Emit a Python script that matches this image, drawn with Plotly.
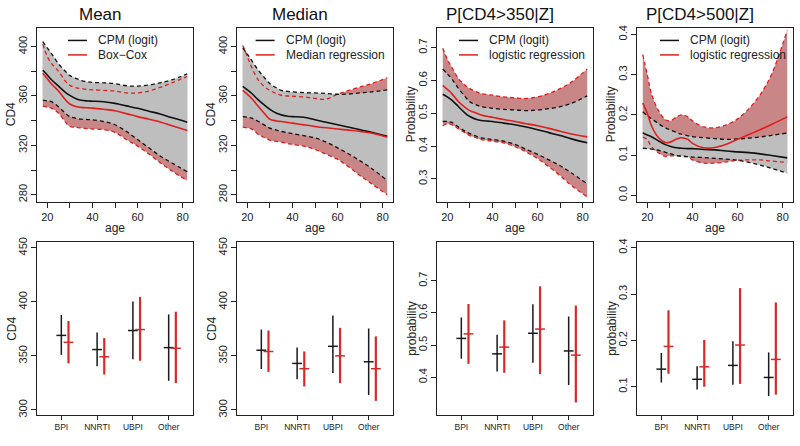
import numpy as np
import plotly.graph_objects as go

# ---------------- data: top row (smooth curves vs age) ----------------
age = [18, 20, 22, 25, 28, 30, 33, 35, 38, 40, 45, 50, 55, 60, 65, 70, 75, 82]

mean_cpm    = [381, 377, 373, 368, 363, 360.5, 357.5, 356.5, 356, 355.8, 355.3, 354, 352, 350, 347.7, 345.4, 342.5, 338.8]
mean_cpm_hi = [404, 399, 394, 386, 380, 376.6, 374, 372.6, 371.5, 371, 370.7, 370, 368.3, 368, 368.9, 370.7, 373, 377.9]
mean_cpm_lo = [356.6, 356, 355.3, 351.3, 346, 343.3, 341.8, 341.2, 340.9, 340.7, 339.3, 336.7, 331.3, 324.7, 318, 311.4, 306, 298.6]
mean_bc     = [378.4, 374, 369.5, 364, 357, 353.5, 351.3, 350.8, 350.4, 350.2, 349.2, 348, 345.7, 343.3, 341.2, 339, 336, 332]
mean_bc_hi  = [402, 392, 386, 380, 372, 368.6, 366.5, 366, 365.3, 365, 364.6, 364, 362.5, 362.5, 364, 367, 370.5, 375.8]
mean_bc_lo  = [351.8, 351, 350, 346, 339, 335.3, 334.5, 334, 333.5, 333.2, 332.7, 330.5, 324.7, 319.4, 313, 306, 299.5, 291.4]

med_cpm    = [367.8, 365, 362, 356.6, 352, 349.2, 346, 344.7, 343.6, 343.3, 342.8, 340.7, 338.7, 336.7, 334.7, 332.7, 330.5, 327.4]
med_cpm_hi = [399, 394, 388.6, 380.6, 374, 370, 366.5, 364.6, 363.7, 363.3, 362.7, 362.5, 362, 361.4, 361.6, 362.5, 363.3, 365]
med_cpm_lo = [343.3, 342.8, 342, 339.3, 336, 334, 332.3, 331.3, 330.2, 329.5, 327.9, 326, 322.6, 318, 313, 307.4, 301.5, 291.4]
med_mr     = [364.6, 361.5, 358, 351.3, 345, 341.2, 339.8, 339.3, 338.5, 338, 336.6, 335.3, 334.2, 333.2, 332.3, 331.3, 330, 326.6]
med_mr_hi  = [401, 392, 383, 372.6, 367, 364.6, 361.8, 360.6, 360, 359.8, 359.3, 358, 357.5, 361.5, 364.5, 367.3, 370, 374.7]
med_mr_lo  = [334.8, 334, 333.2, 328.7, 326, 324.2, 323.2, 322.6, 321.5, 320.7, 319.4, 316.7, 312.7, 308.7, 302.5, 295.4, 289, 280]

p350_cpm    = [0.558, 0.55, 0.54, 0.52, 0.50, 0.49, 0.481, 0.478, 0.476, 0.475, 0.47, 0.465, 0.458, 0.45, 0.441, 0.432, 0.422, 0.41]
p350_cpm_hi = [0.635, 0.62, 0.605, 0.575, 0.55, 0.535, 0.525, 0.52, 0.517, 0.515, 0.512, 0.51, 0.508, 0.51, 0.514, 0.52, 0.53, 0.553]
p350_cpm_lo = [0.475, 0.475, 0.472, 0.458, 0.445, 0.438, 0.43, 0.425, 0.422, 0.42, 0.415, 0.405, 0.39, 0.375, 0.358, 0.34, 0.318, 0.285]
p350_lr     = [0.585, 0.573, 0.56, 0.535, 0.517, 0.508, 0.5, 0.495, 0.49, 0.488, 0.481, 0.475, 0.468, 0.462, 0.454, 0.445, 0.437, 0.428]
p350_lr_hi  = [0.698, 0.665, 0.64, 0.605, 0.585, 0.575, 0.565, 0.56, 0.557, 0.555, 0.55, 0.547, 0.545, 0.55, 0.56, 0.575, 0.595, 0.635]
p350_lr_lo  = [0.462, 0.468, 0.465, 0.452, 0.44, 0.432, 0.425, 0.42, 0.417, 0.415, 0.41, 0.398, 0.382, 0.362, 0.337, 0.31, 0.28, 0.245]

p500_cpm    = [0.155, 0.15, 0.145, 0.135, 0.126, 0.122, 0.118, 0.117, 0.116, 0.116, 0.114, 0.113, 0.11, 0.108, 0.106, 0.103, 0.099, 0.093]
p500_cpm_hi = [0.208, 0.198, 0.19, 0.178, 0.168, 0.163, 0.156, 0.152, 0.148, 0.146, 0.143, 0.141, 0.139, 0.14, 0.142, 0.145, 0.149, 0.155]
p500_cpm_lo = [0.117, 0.116, 0.115, 0.112, 0.107, 0.104, 0.099, 0.097, 0.096, 0.095, 0.094, 0.092, 0.09, 0.087, 0.082, 0.075, 0.067, 0.055]
p500_lr     = [0.229, 0.204, 0.171, 0.143, 0.131, 0.132, 0.14, 0.143, 0.139, 0.129, 0.118, 0.119, 0.127, 0.139, 0.151, 0.163, 0.176, 0.195]
p500_lr_hi  = [0.35, 0.3, 0.25, 0.21, 0.188, 0.185, 0.195, 0.2, 0.195, 0.185, 0.17, 0.168, 0.175, 0.19, 0.215, 0.25, 0.3, 0.41]
p500_lr_lo  = [0.145, 0.138, 0.12, 0.105, 0.097, 0.098, 0.098, 0.099, 0.095, 0.088, 0.08, 0.08, 0.083, 0.087, 0.088, 0.088, 0.085, 0.082]

# ---------------- data: bottom row (estimates by regimen) ----------------
cats = ["BPI", "NNRTI", "UBPI", "Other"]

bmean_cpm    = [369.0, 355.9, 373.5, 357.7]
bmean_cpm_lo = [351.0, 340.4, 347.0, 327.0]
bmean_cpm_hi = [387.8, 371.7, 400.3, 388.4]
bmean_alt    = [362.6, 349.2, 374.4, 357.1]
bmean_alt_lo = [343.1, 332.8, 345.5, 324.9]
bmean_alt_hi = [382.4, 366.5, 404.6, 390.9]

bmed_cpm    = [355.3, 343.1, 358.9, 344.6]
bmed_cpm_lo = [337.9, 328.5, 334.3, 313.9]
bmed_cpm_hi = [374.4, 357.7, 387.5, 375.4]
bmed_alt    = [354.1, 338.2, 350.1, 338.2]
bmed_alt_lo = [335.2, 321.8, 324.9, 308.4]
bmed_alt_hi = [373.5, 354.1, 376.0, 368.1]

b350_cpm    = [0.521, 0.473, 0.537, 0.482]
b350_cpm_lo = [0.458, 0.418, 0.445, 0.376]
b350_cpm_hi = [0.586, 0.532, 0.627, 0.589]
b350_alt    = [0.535, 0.494, 0.550, 0.469]
b350_alt_lo = [0.442, 0.414, 0.410, 0.322]
b350_alt_hi = [0.628, 0.577, 0.683, 0.623]

b500_cpm    = [0.138, 0.116, 0.146, 0.120]
b500_cpm_lo = [0.109, 0.094, 0.104, 0.080]
b500_cpm_hi = [0.173, 0.144, 0.198, 0.174]
b500_alt    = [0.187, 0.143, 0.190, 0.159]
b500_alt_lo = [0.128, 0.100, 0.106, 0.083]
b500_alt_hi = [0.265, 0.201, 0.313, 0.282]

titles = ["Mean", "Median", "P[CD4>350|Z]", "P[CD4>500|Z]"]
legend_alt = ["Box\u2212Cox", "Median regression", "logistic regression", "logistic regression"]
ylab_top = ["CD4", "CD4", "Probability", "Probability"]
ylab_bot = ["CD4", "CD4", "probability", "probability"]

# ---------------- styling ----------------
W, H = 800, 446
FONT = "Liberation Sans, Arial, Helvetica, sans-serif"
BLACK = "#111111"
RED = "#E01E1E"
RED_FILL = "rgb(201,134,134)"
GRAY_FILL = "rgb(190,190,190)"
FRAME = "#222222"

panel_left = [37, 237, 437, 637]
panel_w = 156
top_rows = (23, 200)
bot_rows = (241, 416.5)

def px_x(p):
    return p / W

def px_y(p):
    return 1 - p / H

fig = go.Figure()

top_sets = [
    (mean_cpm, mean_cpm_lo, mean_cpm_hi, mean_bc, mean_bc_lo, mean_bc_hi),
    (med_cpm, med_cpm_lo, med_cpm_hi, med_mr, med_mr_lo, med_mr_hi),
    (p350_cpm, p350_cpm_lo, p350_cpm_hi, p350_lr, p350_lr_lo, p350_lr_hi),
    (p500_cpm, p500_cpm_lo, p500_cpm_hi, p500_lr, p500_lr_lo, p500_lr_hi),
]
bot_sets = [
    (bmean_cpm, bmean_cpm_lo, bmean_cpm_hi, bmean_alt, bmean_alt_lo, bmean_alt_hi),
    (bmed_cpm, bmed_cpm_lo, bmed_cpm_hi, bmed_alt, bmed_alt_lo, bmed_alt_hi),
    (b350_cpm, b350_cpm_lo, b350_cpm_hi, b350_alt, b350_alt_lo, b350_alt_hi),
    (b500_cpm, b500_cpm_lo, b500_cpm_hi, b500_alt, b500_alt_lo, b500_alt_hi),
]

top_yranges = [[274.2, 415.4], [274.2, 415.4], [0.230, 0.761], [-0.0164, 0.417]]
top_ytick = [
    ([280, 300, 320, 340, 360, 380, 400], ["280", "", "320", "", "360", "", "400"]),
    ([280, 300, 320, 340, 360, 380, 400], ["280", "", "320", "", "360", "", "400"]),
    ([0.3, 0.4, 0.5, 0.6, 0.7], ["0.3", "0.4", "0.5", "0.6", "0.7"]),
    ([0.0, 0.1, 0.2, 0.3, 0.4], ["0.0", "0.1", "0.2", "0.3", "0.4"]),
]
bot_yranges = [[295.4, 455.2], [295.4, 455.2], [0.283, 0.82], [0.039, 0.412]]
bot_ytick = [
    ([300, 350, 400, 450], ["300", "350", "400", "450"]),
    ([300, 350, 400, 450], ["300", "350", "400", "450"]),
    ([0.4, 0.5, 0.6, 0.7], ["0.4", "0.5", "0.6", "0.7"]),
    ([0.1, 0.2, 0.3, 0.4], ["0.1", "0.2", "0.3", "0.4"]),
]

def ax_suffix(n):
    return "" if n == 1 else str(n)

common_axis = dict(
    showline=True, mirror=True, linecolor=FRAME, linewidth=1,
    ticks="outside", ticklen=5, tickwidth=1, tickcolor=FRAME,
    showgrid=False, zeroline=False,
    tickfont=dict(family=FONT, size=11, color="#222"),
)

layout_axes = {}
annotations = []
shapes = []

dash_pat = "4px,3px"

for i in range(4):
    n = i + 1
    xa, ya = "x" + ax_suffix(n), "y" + ax_suffix(n)
    cpm, cpm_lo, cpm_hi, alt, alt_lo, alt_hi = top_sets[i]
    # red band, then gray band on top
    for lo, hi, fc in [(alt_lo, alt_hi, RED_FILL), (cpm_lo, cpm_hi, GRAY_FILL)]:
        fig.add_trace(go.Scatter(x=age, y=lo, mode="lines", line=dict(width=0, shape="spline"),
                                 showlegend=False, hoverinfo="skip", xaxis=xa, yaxis=ya))
        fig.add_trace(go.Scatter(x=age, y=hi, mode="lines", line=dict(width=0, shape="spline"),
                                 fill="tonexty", fillcolor=fc,
                                 showlegend=False, hoverinfo="skip", xaxis=xa, yaxis=ya))
    for s, col in [(alt_hi, RED), (alt_lo, RED), (cpm_hi, BLACK), (cpm_lo, BLACK)]:
        fig.add_trace(go.Scatter(x=age, y=s, mode="lines",
                                 line=dict(color=col, width=1.3, dash=dash_pat, shape="spline"),
                                 showlegend=False, hoverinfo="skip", xaxis=xa, yaxis=ya))
    fig.add_trace(go.Scatter(x=age, y=cpm, mode="lines", name="CPM (logit)",
                             line=dict(color=BLACK, width=1.6, shape="spline"),
                             showlegend=False, xaxis=xa, yaxis=ya))
    fig.add_trace(go.Scatter(x=age, y=alt, mode="lines", name=legend_alt[i],
                             line=dict(color=RED, width=1.6, shape="spline"),
                             showlegend=False, xaxis=xa, yaxis=ya))

    L = panel_left[i]
    layout_axes["xaxis" + ax_suffix(n)] = dict(
        common_axis, domain=[px_x(L), px_x(L + panel_w)], anchor=ya,
        range=[15.44, 84.56], tickvals=[20, 30, 40, 50, 60, 70, 80],
        ticktext=["20", "", "40", "", "60", "", "80"])
    layout_axes["yaxis" + ax_suffix(n)] = dict(
        common_axis, domain=[px_y(top_rows[1]), px_y(top_rows[0])], anchor=xa,
        range=top_yranges[i], tickvals=top_ytick[i][0], ticktext=top_ytick[i][1],
        tickangle=-90)

    # titles and axis labels
    annotations.append(dict(text=titles[i], x=px_x(100 + 200 * i), y=px_y(10), xref="paper", yref="paper",
                            showarrow=False, xanchor="center", yanchor="middle",
                            font=dict(family=FONT, size=17, color="#111")))
    annotations.append(dict(text="age", x=px_x(L + panel_w / 2), y=px_y(227), xref="paper", yref="paper",
                            showarrow=False, xanchor="center", yanchor="middle",
                            font=dict(family=FONT, size=12, color="#222")))
    annotations.append(dict(text=ylab_top[i], x=px_x(L - 26), y=px_y(111), xref="paper", yref="paper",
                            showarrow=False, xanchor="center", yanchor="middle", textangle=-90,
                            font=dict(family=FONT, size=12, color="#222")))
    # legend (inside panel, top)
    text_x = [59, 46.6, 50, 51][i]
    for r, (lab, col) in enumerate([("CPM (logit)", BLACK), (legend_alt[i], RED)]):
        yy = [36, 50.7][r]
        shapes.append(dict(type="line", xref="paper", yref="paper",
                           x0=px_x(L + text_x - 28), x1=px_x(L + text_x - 9),
                           y0=px_y(yy), y1=px_y(yy), line=dict(color=col, width=1.5)))
        annotations.append(dict(text=lab, x=px_x(L + text_x), y=px_y(yy), xref="paper", yref="paper",
                                showarrow=False, xanchor="left", yanchor="middle",
                                font=dict(family=FONT, size=12, color="#222")))

# bottom row
pos = np.arange(1, len(cats) + 1)
offset = 0.2
for i in range(4):
    n = i + 5
    xa, ya = "x" + str(n), "y" + str(n)
    cpm, cpm_lo, cpm_hi, alt, alt_lo, alt_hi = [np.array(v) for v in bot_sets[i]]
    for xs, est, lo, hi, col, th in [(pos, cpm, cpm_lo, cpm_hi, "#1a1a1a", 1.5),
                                     (pos + offset, alt, alt_lo, alt_hi, "#D42A2A", 2.2)]:
        fig.add_trace(go.Scatter(
            x=xs, y=est, mode="markers",
            marker=dict(symbol="line-ew", size=7, color=col, line=dict(color=col, width=1.5)),
            error_y=dict(type="data", symmetric=False, array=hi - est, arrayminus=est - lo,
                         width=0, thickness=th, color=col),
            showlegend=False, xaxis=xa, yaxis=ya))
    L = panel_left[i]
    layout_axes["xaxis" + str(n)] = dict(
        common_axis, domain=[px_x(L), px_x(L + panel_w)], anchor=ya,
        range=[0.32, 4.68], tickvals=list(pos), ticktext=cats, ticklen=4,
        tickfont=dict(family=FONT, size=8.5, color="#222"))
    layout_axes["yaxis" + str(n)] = dict(
        common_axis, domain=[px_y(bot_rows[1]), px_y(bot_rows[0])], anchor=xa,
        range=bot_yranges[i], tickvals=bot_ytick[i][0], ticktext=bot_ytick[i][1],
        tickangle=-90)
    annotations.append(dict(text=ylab_bot[i], x=px_x(L - 25), y=px_y(329), xref="paper", yref="paper",
                            showarrow=False, xanchor="center", yanchor="middle", textangle=-90,
                            font=dict(family=FONT, size=12, color="#222")))

fig.update_layout(
    width=W, height=H, margin=dict(l=0, r=0, t=0, b=0),
    paper_bgcolor="white", plot_bgcolor="white",
    showlegend=False, annotations=annotations, shapes=shapes,
    font=dict(family=FONT, color="#222"),
    **layout_axes,
)

fig.write_html("out.html")
